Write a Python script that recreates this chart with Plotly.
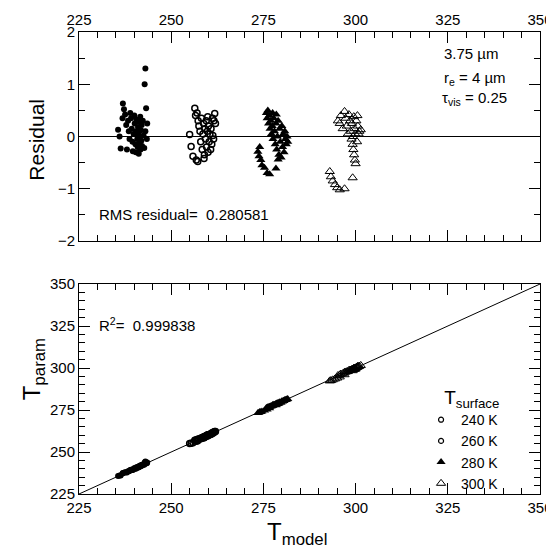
import plotly.graph_objects as go

# ---- data ----
t240 = [235.6, 236.0, 236.3, 236.8, 236.9, 237.2, 237.5, 237.8, 238.0, 238.3, 238.5, 238.7, 238.9,
        239.1, 239.3, 239.5, 239.6, 239.8, 240.0, 240.1, 240.3, 240.4, 240.5, 240.6, 240.8, 240.9,
        241.0, 241.1, 241.2, 241.3, 241.4, 241.5, 241.6, 241.7, 241.8, 241.9, 242.0, 242.1, 242.3,
        242.5, 242.7, 243.0, 243.2, 243.4, 243.5, 242.8, 243.0]
r240 = [0.13, 0.00, -0.23, 0.35, 0.63, 0.52, 0.42, 0.22, -0.25, 0.30, 0.10, -0.05, 0.45,
        0.35, 0.15, -0.10, -0.28, 0.05, 0.40, 0.25, -0.15, -0.30, 0.10, 0.32, -0.05, -0.20,
        0.18, 0.05, -0.33, 0.28, -0.12, 0.00, 0.38, -0.25, 0.12, -0.08, 0.22, -0.18, 0.30,
        0.02, -0.22, 0.10, 0.54, -0.05, 0.25, 1.00, 1.30]

t260 = [255.0, 255.4, 255.9, 256.4, 256.6, 256.8, 257.2, 257.0, 257.3, 257.5, 257.8, 258.0, 258.2,
        258.4, 258.6, 258.8, 258.9, 259.0, 259.1, 259.3, 259.5, 259.6, 259.8, 259.9, 260.0, 260.1,
        260.3, 260.5, 260.7, 260.8, 261.0, 261.2, 261.3, 261.5, 261.6, 261.8, 262.0]
r260 = [0.04, -0.19, -0.38, 0.54, 0.40, -0.45, -0.48, 0.45, 0.30, 0.20, 0.10, -0.10, 0.35,
        -0.25, 0.05, 0.25, -0.42, -0.35, 0.15, -0.05, 0.30, -0.20, 0.10, 0.38, -0.30, 0.20,
        -0.10, 0.05, -0.25, 0.15, -0.15, 0.35, 0.02, -0.05, 0.30, 0.44, 0.25]

t280 = [273.5, 273.8, 274.0, 274.3, 274.6, 275.3, 276.0, 276.7, 278.4,
        275.8, 276.0, 276.2, 276.4, 276.6, 276.8, 277.0, 277.2, 277.4, 277.5, 277.6, 277.8, 278.0,
        278.2, 278.4, 278.5, 278.6, 278.8, 279.0, 279.0, 279.2, 279.4, 279.6, 279.8, 280.0, 280.2,
        280.4, 280.6, 280.8, 281.0, 281.2, 281.4, 281.6]
r280 = [-0.29, -0.38, -0.20, -0.45, -0.55, -0.60, -0.70, -0.72, -0.61,
        0.45, 0.35, 0.50, 0.25, 0.40, 0.15, 0.30, 0.05, 0.20, 0.45, -0.05, 0.35, 0.10,
        -0.15, 0.25, 0.42, -0.25, 0.00, 0.30, -0.44, -0.35, 0.15, -0.10, -0.40, 0.20, -0.20,
        0.05, -0.30, 0.10, -0.05, -0.15, 0.00, -0.10]

t300 = [293.0, 293.3, 293.8, 294.4, 295.0, 295.7, 297.0, 299.2,
        295.2, 295.7, 296.0, 296.5, 297.0, 297.3, 297.6, 297.9, 298.2, 298.5, 298.7, 298.9, 299.0,
        299.2, 299.3, 299.4, 299.5, 299.6, 299.7, 299.8, 299.9, 300.0, 300.2, 300.4, 300.5, 300.6,
        300.8, 301.0, 301.4]
r300 = [-0.67, -0.77, -0.85, -0.92, -0.98, -1.02, -1.00, -0.79,
        0.30, 0.25, 0.40, 0.15, 0.48, 0.35, 0.20, 0.05, 0.42, 0.30, 0.10, -0.05, 0.25,
        -0.15, 0.00, -0.25, 0.38, -0.35, 0.15, -0.45, 0.05, -0.52, 0.30, -0.10, 0.40, 0.20,
        0.05, 0.10, 0.13]

labels = ["240 K", "260 K", "280 K", "300 K"]
axis_range = [225, 350]
tick_vals = [225, 250, 275, 300, 325, 350]
rms_text = "RMS residual=  0.280581"
r2_text = "R<sup>2</sup>=  0.999838"

# ---- styles ----
FONT = "Liberation Sans, Arial, Helvetica, sans-serif"
styles = [
    dict(symbol="circle", size=6, color="black"),
    dict(symbol="circle-open", size=6, color="black", line=dict(width=1.5)),
    dict(symbol="triangle-up", size=8, color="black"),
    dict(symbol="triangle-up-open", size=8, color="black", line=dict(width=1)),
]
legend_styles = [
    dict(symbol="circle-open", size=5, color="black", line=dict(width=1.2)),
    dict(symbol="circle-open", size=5, color="black", line=dict(width=1.2)),
    dict(symbol="triangle-up", size=8, color="black"),
    dict(symbol="triangle-up-open", size=8, color="black", line=dict(width=1)),
]

fig = go.Figure()
series = [(t240, r240), (t260, r260), (t280, r280), (t300, r300)]
for (tm, rs), st in zip(series, styles):
    tp = [a + b for a, b in zip(tm, rs)]
    fig.add_trace(go.Scatter(x=tm, y=rs, mode="markers", marker=st, showlegend=False,
                             xaxis="x", yaxis="y"))
    fig.add_trace(go.Scatter(x=tm, y=tp, mode="markers", marker=st, showlegend=False,
                             xaxis="x2", yaxis="y2"))

# 1:1 line
fig.add_trace(go.Scatter(x=axis_range, y=axis_range, mode="lines",
                         line=dict(color="black", width=1), showlegend=False,
                         xaxis="x2", yaxis="y2"))

for lab, st in zip(labels, legend_styles):
    fig.add_trace(go.Scatter(x=[None], y=[None], mode="markers", marker=st, name=lab,
                             xaxis="x2", yaxis="y2"))

common = dict(showline=True, linecolor="black", linewidth=1, mirror="ticks",
              ticks="inside", ticklen=11, tickcolor="black", showgrid=False, automargin=False,
              tickfont=dict(family=FONT, size=15, color="black"))

fig.update_layout(
    width=554, height=550,
    margin=dict(l=71, r=22, t=24, b=64, autoexpand=False),
    paper_bgcolor="white", plot_bgcolor="white",
    font=dict(family=FONT, color="black"),
    xaxis=dict(domain=[0, 1], anchor="y", side="top", range=axis_range, tickvals=tick_vals,
               zeroline=False, minor=dict(dtick=5, ticklen=6, ticks="inside", tickcolor="black"),
               **common),
    yaxis=dict(domain=[0.5476, 1], anchor="x", range=[-2, 2], dtick=1, zeroline=True,
               zerolinecolor="black", zerolinewidth=1,
               minor=dict(dtick=0.5, ticklen=6, ticks="inside", tickcolor="black"), **common),
    xaxis2=dict(domain=[0, 1], anchor="y2", range=axis_range, tickvals=tick_vals, zeroline=False,
                minor=dict(dtick=5, ticklen=6, ticks="inside", tickcolor="black"), **common),
    yaxis2=dict(domain=[0, 0.4545], anchor="x2", range=axis_range, tickvals=tick_vals,
                zeroline=False,
                minor=dict(dtick=5, ticklen=6, ticks="inside", tickcolor="black"), **common),
    legend=dict(x=0.742, y=0.248, xanchor="left", yanchor="top", bgcolor="rgba(0,0,0,0)",
                font=dict(family=FONT, size=14, color="black"),
                title=dict(text="&nbsp;&nbsp;&nbsp;&nbsp;T<sub>surface</sub>",
                           font=dict(family=FONT, size=19)),
                tracegroupgap=0, itemwidth=30),
)

ann = dict(xref="paper", yref="paper", showarrow=False, font=dict(family=FONT, size=15, color="black"))
fig.add_annotation(x=0.787, y=0.953, text="3.75 µm", xanchor="left", yanchor="middle", **ann)
fig.add_annotation(x=0.787, y=0.899, text="r<sub>e</sub> = 4 µm", xanchor="left", yanchor="middle", **ann)
fig.add_annotation(x=0.782, y=0.855, text="τ<sub>vis</sub> = 0.25", xanchor="left", yanchor="middle", **ann)
fig.add_annotation(x=0.039, y=0.604, text=rms_text, xanchor="left", yanchor="middle", **ann)
fig.add_annotation(x=0.039, y=0.366, text=r2_text, xanchor="left", yanchor="middle", **ann)

big = dict(xref="paper", yref="paper", showarrow=False, font=dict(family=FONT, size=21, color="black"))
tbig = dict(xref="paper", yref="paper", showarrow=False, font=dict(family=FONT, size=24, color="black"))
fig.add_annotation(x=-0.092, y=0.766, text="Residual", textangle=-90, xanchor="center", yanchor="middle", **big)
fig.add_annotation(x=-0.1, y=0.27, text="T<sub>param</sub>", textangle=-90, xanchor="center", yanchor="middle", **tbig)
fig.add_annotation(x=0.473, y=-0.085, text="T<sub>model</sub>", xanchor="center", yanchor="middle", **tbig)

fig.write_html("out.html")
